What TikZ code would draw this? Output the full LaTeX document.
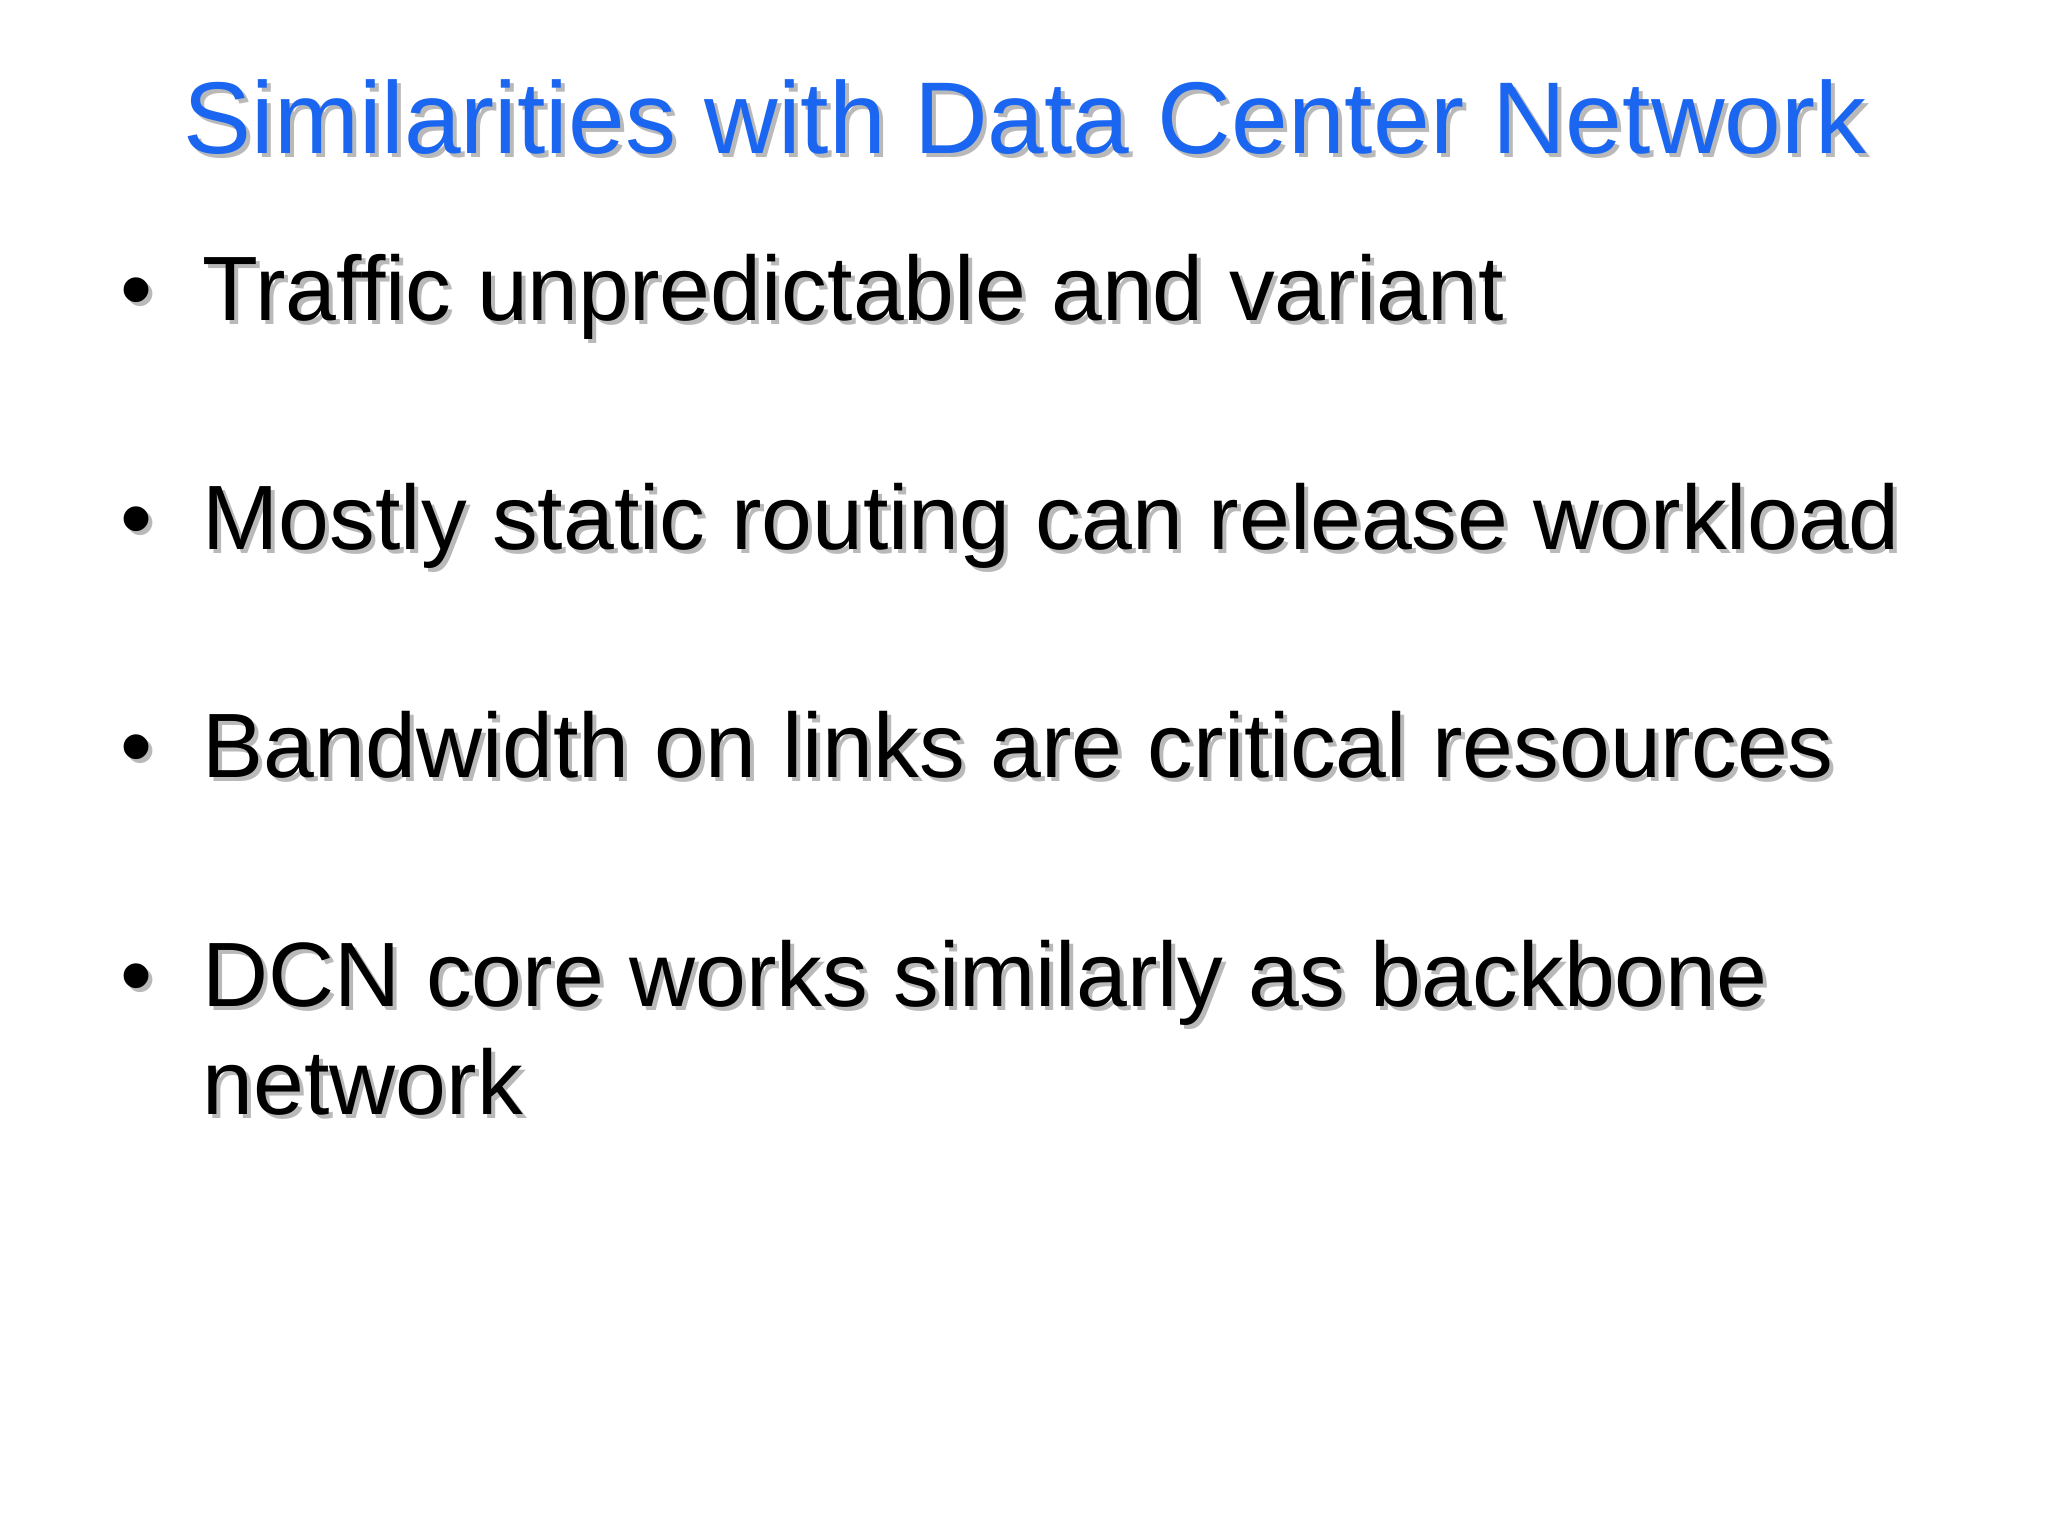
\documentclass[tikz,border=0pt]{standalone}
\usepackage{fontspec}
\setmainfont{Liberation Sans}
\definecolor{titleblue}{RGB}{26,102,240}
\definecolor{shadowgray}{RGB}{185,185,185}
\begin{document}
\begin{tikzpicture}[x=0.01cm,y=-0.01cm,
  ttl/.style={font=\fontsize{29}{34}\selectfont,inner sep=0,anchor=base},
  item/.style={font=\fontsize{26}{31}\selectfont,inner sep=0,anchor=base west},
  bul/.style={font=\fontsize{26}{31}\selectfont,inner sep=0,anchor=base}]
\useasboundingbox[fill=white] (0,0) rectangle (2048,1536);
\node[ttl,text=shadowgray] (tsh) at (1029,157) {Similarities with Data Center Network};
\node[ttl,text=titleblue] (t) at (1025,153) {Similarities with Data Center Network};
\foreach \y/\txt [count=\i] in {320/Traffic unpredictable and variant,
  549/Mostly static routing can release workload,
  777/Bandwidth on links are critical resources,
  1006/DCN core works similarly as backbone,
  1114/network}{
  \node[item,text=shadowgray] (s\i) at (206,\y+4) {\txt};
  \node[item] (l\i) at (202,\y) {\txt};
}
\foreach \y [count=\i] in {320,549,777,1006}{
  \node[bul,text=shadowgray] (bs\i) at (141,\y+4) {•};
  \node[bul] (b\i) at (137,\y) {•};
}
\end{tikzpicture}
\end{document}
